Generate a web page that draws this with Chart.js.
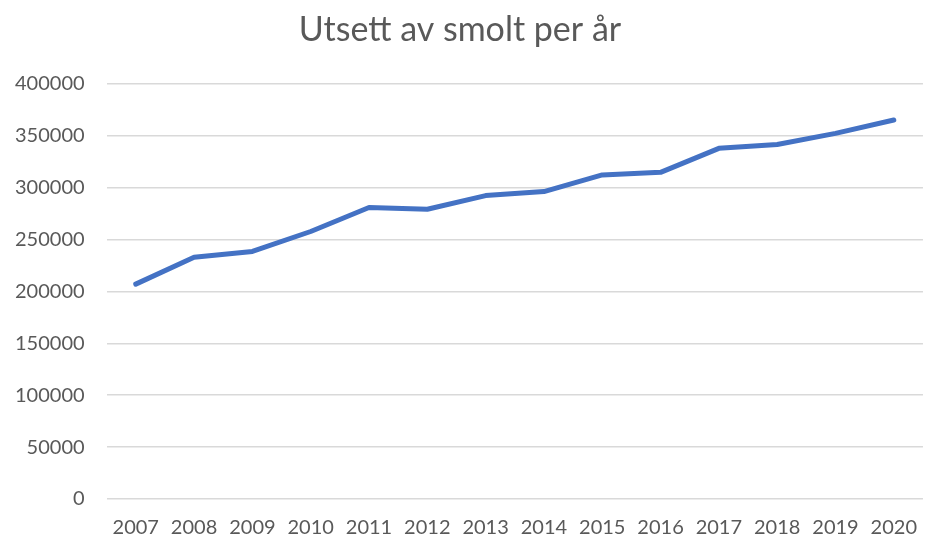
<!DOCTYPE html>
<html>
<head>
<meta charset="utf-8">
<script src="https://cdn.jsdelivr.net/npm/chart.js@4/dist/chart.umd.min.js"></script>
<style>
  html, body { margin: 0; padding: 0; background: #fff; }
  #wrap { width: 926px; height: 540px; }
</style>
</head>
<body>
<div id="wrap"><canvas id="smoltChart"></canvas></div>
<script>
const years = ["2007", "2008", "2009", "2010", "2011", "2012", "2013",
               "2014", "2015", "2016", "2017", "2018", "2019", "2020"];
const smolt = [207000, 233000, 238500, 257700, 280800, 279100, 292300,
               296200, 312200, 314700, 337800, 341600, 352200, 365100];
const chartTitle = "Utsett av smolt per år";

const grey = "#595959";

new Chart(document.getElementById("smoltChart"), {
    type: "line",
    data: {
        labels: years,
        datasets: [{
            data: smolt,
            borderColor: "#4472C4",
            borderWidth: 5,
            pointRadius: 0,
            tension: 0,
            borderCapStyle: "round",
            borderJoinStyle: "round"
        }]
    },
    options: {
        responsive: true,
        maintainAspectRatio: false,
        animation: false,
        layout: { padding: { left: -7, right: -1, top: 8, bottom: -9 } },
        plugins: {
            legend: { display: false },
            tooltip: { enabled: false },
            title: {
                display: true,
                text: chartTitle,
                color: grey,
                font: { family: "Lato", size: 34, weight: "normal" },
                padding: { top: 2, bottom: 33 }
            }
        },
        scales: {
            x: {
                offset: true,
                grid: { display: false },
                border: { display: false },
                ticks: {
                    color: grey,
                    font: { family: "Lato", size: 20 },
                    padding: 9,
                    maxRotation: 0
                }
            },
            y: {
                min: 0,
                max: 400000,
                grid: { color: "#d9d9d9", lineWidth: 1.5, drawTicks: false },
                border: { display: false },
                ticks: {
                    stepSize: 50000,
                    color: grey,
                    font: { family: "Lato", size: 20 },
                    padding: 22,
                    callback: v => String(v)
                }
            }
        }
    }
});
</script>
</body>
</html>
